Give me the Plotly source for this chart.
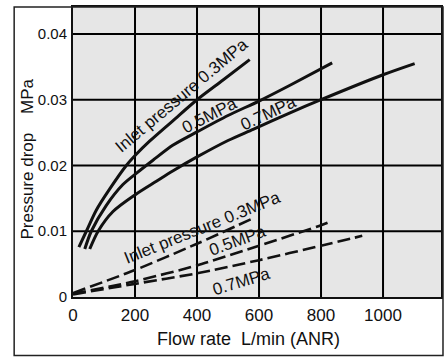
import plotly.graph_objects as go

# ---- data ----
flow_s03 = [19, 43, 75, 118, 172, 204, 247, 322, 400, 484, 570]
dp_s03 = [0.0076, 0.0100, 0.0132, 0.0164, 0.0200, 0.0217, 0.0237, 0.0268, 0.0300, 0.0330, 0.0361]

flow_s05 = [38, 59, 107, 161, 204, 258, 323, 400, 500, 600, 700, 836]
dp_s05 = [0.0073, 0.0100, 0.0139, 0.0171, 0.0188, 0.0208, 0.0231, 0.0251, 0.0276, 0.0298, 0.0322, 0.0356]

flow_s07 = [54, 81, 129, 202, 269, 323, 400, 500, 581, 700, 800, 1000, 1102]
dp_s07 = [0.0073, 0.0100, 0.0130, 0.0156, 0.0176, 0.0192, 0.0213, 0.0238, 0.0255, 0.0280, 0.0300, 0.0338, 0.0355]

flow_d03 = [0, 200, 400, 573]
dp_d03 = [0.0006, 0.0041, 0.0081, 0.0118]

flow_d05 = [0, 200, 400, 600, 800, 821]
dp_d05 = [0.0005, 0.0024, 0.0048, 0.0078, 0.0109, 0.0113]

flow_d07 = [0, 200, 400, 600, 800, 933]
dp_d07 = [0.0004, 0.0020, 0.0036, 0.0056, 0.0078, 0.0093]

x_tickvals = [0, 200, 400, 600, 800, 1000]
x_ticktext = ["0", "200", "400", "600", "800", "1000"]
y_tickvals = [0, 0.01, 0.02, 0.03, 0.04]
y_ticktext = ["0", "0.01", "0.02", "0.03", "0.04"]

x_range = [0, 1187]
y_range = [0, 0.0441]

# labels: text, x, y, angle
labels = [
    ("Inlet pressure 0.3MPa", 350, 0.0307, -40),
    ("0.5MPa", 440, 0.0276, -27),
    ("0.7MPa", 629, 0.0279, -25),
    ("Inlet pressure 0.3MPa", 419, 0.0105, -22),
    ("0.5MPa", 532, 0.0086, -20),
    ("0.7MPa", 544, 0.0023, -17),
]

FONT = "Liberation Sans, Arial, Helvetica, sans-serif"
INK = "#111111"
GRID = "#000000"

fig = go.Figure()

# grid drawn as a line trace built from the tick positions and the axis range
gx, gy = [], []
for xv in x_tickvals[1:]:
    gx += [xv, xv, None]
    gy += [y_range[0], y_range[1], None]
for yv in y_tickvals[1:]:
    gx += [x_range[0], x_range[1], None]
    gy += [yv, yv, None]
fig.add_trace(go.Scatter(x=gx, y=gy, mode="lines", line=dict(color=GRID, width=2),
                         connectgaps=False, showlegend=False, hoverinfo="skip"))

for fx, fy in [(flow_s03, dp_s03), (flow_s05, dp_s05), (flow_s07, dp_s07)]:
    fig.add_trace(go.Scatter(x=fx, y=fy, mode="lines",
                             line=dict(color=INK, width=3, shape="spline", smoothing=0.8),
                             showlegend=False, hoverinfo="skip"))
for fx, fy in [(flow_d03, dp_d03), (flow_d05, dp_d05), (flow_d07, dp_d07)]:
    fig.add_trace(go.Scatter(x=fx, y=fy, mode="lines",
                             line=dict(color=INK, width=2.6, dash="13px,5px", shape="spline", smoothing=0.6),
                             showlegend=False, hoverinfo="skip"))

for txt, lx, ly, ang in labels:
    fig.add_annotation(x=lx, y=ly, xref="x", yref="y", text=txt, showarrow=False,
                       textangle=ang, xanchor="center", yanchor="middle",
                       font=dict(family=FONT, size=17, color=INK))

# axis titles
fig.add_annotation(x=(249 - 73) / 369, y=(297 - 339) / 292, xref="paper", yref="paper",
                   text="Flow rate\u00a0\u00a0L/min (ANR)", showarrow=False,
                   xanchor="center", yanchor="middle",
                   font=dict(family=FONT, size=18, color=INK))
fig.add_annotation(x=(27.5 - 73) / 369, y=(297 - 158) / 292, xref="paper", yref="paper",
                   text="Pressure drop\u00a0\u00a0\u00a0\u00a0MPa", showarrow=False,
                   textangle=-90, xanchor="center", yanchor="middle",
                   font=dict(family=FONT, size=17, color=INK))

# outer frame
fig.add_shape(type="rect", xref="paper", yref="paper",
              x0=(14 - 73) / 369, x1=(444 - 73) / 369, y0=(297 - 356) / 292, y1=1,
              line=dict(color="#222222", width=1.5), fillcolor="rgba(0,0,0,0)", layer="above")

fig.update_xaxes(range=x_range, tickvals=x_tickvals, ticktext=x_ticktext,
                 showgrid=True, gridcolor=GRID, gridwidth=1,
                 showline=True, linecolor=INK, linewidth=2, mirror=True,
                 ticks="outside", ticklen=2, tickcolor="rgba(0,0,0,0)",
                 tickfont=dict(family=FONT, size=17, color=INK), zeroline=False)
fig.update_yaxes(range=y_range, tickvals=y_tickvals, ticktext=y_ticktext,
                 showgrid=True, gridcolor=GRID, gridwidth=1,
                 showline=True, linecolor=INK, linewidth=2, mirror=True,
                 ticks="outside", ticklen=1, tickcolor="rgba(0,0,0,0)",
                 tickfont=dict(family=FONT, size=15, color=INK), zeroline=False)

fig.update_layout(width=448, height=358,
                  margin=dict(l=73, r=6, t=5, b=61),
                  plot_bgcolor="#e6e6e6", paper_bgcolor="white",
                  font=dict(family=FONT, color=INK))

fig.write_html("out.html", config={"displayModeBar": False})
